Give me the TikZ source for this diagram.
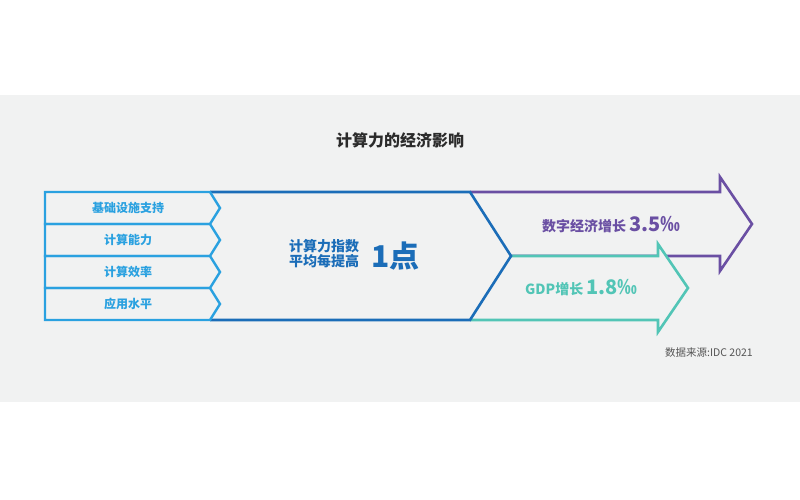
\documentclass[tikz,border=0pt]{standalone}
\usepackage{fontspec}
\setmainfont{Noto Sans CJK SC}
\definecolor{bgc}{HTML}{F1F2F2}
\definecolor{lblue}{HTML}{2AA1E0}
\definecolor{dblue}{HTML}{1B6DB8}
\definecolor{purp}{HTML}{6A4FA3}
\definecolor{teal2}{HTML}{52C5B6}
\definecolor{srcgray}{HTML}{555555}
\definecolor{titlec}{HTML}{2B2B2B}
\tikzset{
  rowbox/.style={draw=lblue,line width=2.4pt,line join=miter},
  bigshape/.style={draw=dblue,line width=2.6pt,line join=miter},
  purparrow/.style={draw=purp,fill=bgc,line width=2.6pt,line join=miter},
  tealarrow/.style={draw=teal2,fill=bgc,line width=2.6pt,line join=miter},
  rowlabel/.style={text=lblue,font=\fontsize{12}{14}\selectfont\bfseries,inner sep=0pt},
}
\begin{document}
\begin{tikzpicture}[x=1pt,y=-1pt]
\useasboundingbox (0,0) rectangle (800,500);
\fill[bgc] (0,95) rectangle (800,402);
% title
\node[text=titlec,font=\fontsize{16}{18}\selectfont\bfseries,inner sep=0pt] (title) at (400,140) {计算力的经济影响};
% purple arrow
\path[purparrow] (470,192) -- (720,192) -- (720,177) -- (752,224) -- (720,271) -- (720,256) -- (511,256);
% teal arrow
\path[tealarrow] (511,256) -- (658,256) -- (658,244) -- (688,288) -- (658,332) -- (658,320) -- (470,320);
% dark blue shape
\draw[bigshape] (210,192) -- (470,192) -- (511,256) -- (470,320) -- (210,320);
% rows
\foreach \i in {0,1,2,3}{
  \pgfmathsetmacro{\ya}{192+32*\i}
  \pgfmathsetmacro{\yb}{\ya+16}
  \pgfmathsetmacro{\yc}{\ya+32}
  \draw[rowbox] (45,\ya) -- (210,\ya) -- (220,\yb) -- (210,\yc) -- (45,\yc) -- cycle;
}
\node[rowlabel] (r1) at (128,208) {基础设施支持};
\node[rowlabel] (r2) at (128,240) {计算能力};
\node[rowlabel] (r3) at (128,272) {计算效率};
\node[rowlabel] (r4) at (128,304) {应用水平};
% center text
\node[text=dblue,font=\fontsize{14}{15}\selectfont\bfseries,align=left,inner sep=0pt] (ctext) at (324,254) {计算力指数\\平均每提高};
\node[text=dblue,font=\fontsize{30}{32}\selectfont\bfseries,inner sep=0pt,anchor=west] (onepoint) at (371,256) {1点};
% purple label
\node[text=purp,font=\fontsize{14}{16}\selectfont\bfseries,inner sep=0pt,anchor=west] (dig) at (542,225) {数字经济增长 \fontsize{20}{22}\selectfont 3.5‰};
% teal label
\node[text=teal2,font=\fontsize{14}{16}\selectfont\bfseries,inner sep=0pt,anchor=west] (gdp) at (525,288) {GDP增长 \fontsize{20}{22}\selectfont 1.8‰};
% source
\node[text=srcgray,font=\fontsize{10.5}{12}\selectfont,inner sep=0pt,anchor=west] (src) at (665,353) {数据来源:IDC 2021};
\end{tikzpicture}
\end{document}
